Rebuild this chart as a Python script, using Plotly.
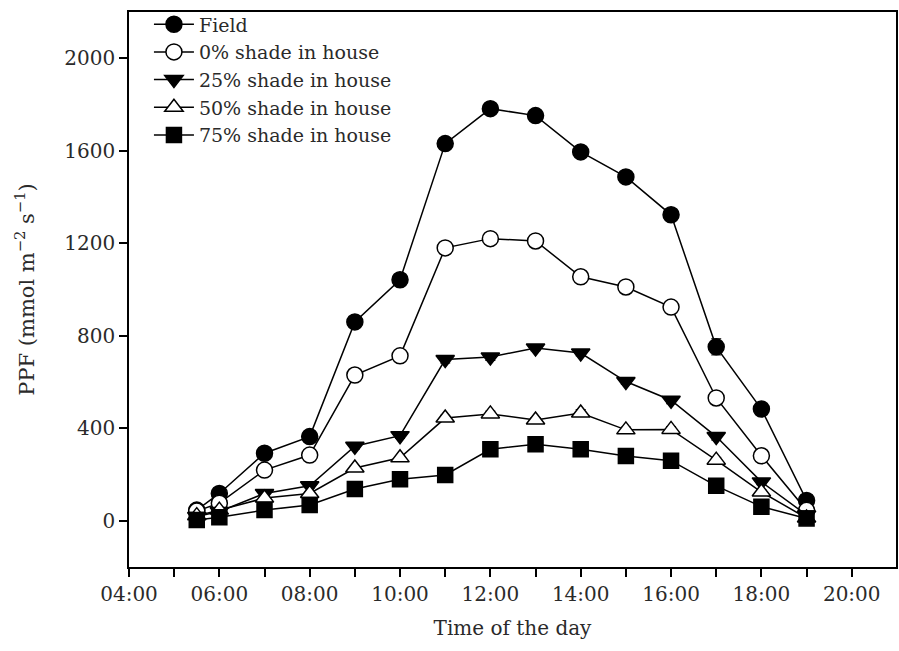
import plotly.graph_objects as go

hours = [5.5, 6, 7, 8, 9, 10, 11, 12, 13, 14, 15, 16, 17, 18, 19]

field = [46, 118, 292, 364, 860, 1042, 1631, 1782, 1752, 1595, 1487, 1323, 752, 483, 88]
shade0 = [42, 76, 219, 284, 630, 713, 1180, 1220, 1210, 1055, 1011, 924, 531, 281, 45]
shade25 = [18, 40, 118, 151, 322, 368, 697, 708, 747, 725, 602, 521, 364, 168, 25]
shade50 = [22, 46, 98, 118, 228, 272, 444, 462, 436, 466, 393, 395, 262, 124, 12]
shade75 = [3, 15, 46, 68, 137, 179, 198, 309, 331, 309, 280, 260, 151, 61, 10]

err_field = [8, 10, 15, 12, 15, 15, 15, 15, 15, 12, 12, 20, 35, 15, 10]
err0 = [8, 10, 10, 10, 12, 12, 15, 25, 12, 12, 12, 20, 15, 10, 8]
err25 = [6, 8, 10, 10, 12, 12, 15, 15, 12, 12, 12, 15, 15, 12, 8]
err50 = [6, 8, 8, 8, 10, 10, 12, 12, 10, 15, 12, 12, 12, 10, 6]
err75 = [5, 6, 8, 8, 10, 10, 10, 12, 12, 10, 10, 10, 10, 8, 5]

names = ["Field", "0% shade in house", "25% shade in house",
         "50% shade in house", "75% shade in house"]

x_major = [4, 6, 8, 10, 12, 14, 16, 18, 20]
x_major_text = ["04:00", "06:00", "08:00", "10:00", "12:00",
                "14:00", "16:00", "18:00", "20:00"]
x_minor = [5, 7, 9, 11, 13, 15, 17, 19]
y_tickvals = [0, 400, 800, 1200, 1600, 2000]

FONT = "DejaVu Serif"
TXT = "#2a2a2a"

series = [
    (field, err_field, "circle", "black", 16),
    (shade0, err0, "circle", "white", 16),
    (shade25, err25, "triangle-down", "black", 16),
    (shade50, err50, "triangle-up", "white", 16),
    (shade75, err75, "square", "black", 15),
]

fig = go.Figure()
for (vals, errs, sym, fill, size), name in zip(series, names):
    fig.add_trace(go.Scatter(
        x=hours, y=vals, name=name, mode="lines+markers",
        line=dict(color="black", width=1.5),
        marker=dict(symbol=sym, size=size, color=fill,
                    line=dict(color="black", width=1.5)),
        error_y=dict(type="data", array=errs, visible=True,
                     color="black", thickness=1, width=5),
    ))

fig.update_layout(
    width=899, height=651,
    margin=dict(l=129, r=1, t=12, b=84),
    paper_bgcolor="white", plot_bgcolor="white",
    font=dict(family=FONT, size=20, color=TXT),
    showlegend=True,
    legend=dict(x=0.026, y=1.012, xanchor="left", yanchor="top",
                bgcolor="rgba(0,0,0,0)", borderwidth=0,
                font=dict(family=FONT, size=19, color=TXT),
                tracegroupgap=0, itemwidth=40),
    xaxis=dict(
        range=[4, 20.98], tickvals=x_major, ticktext=x_major_text,
        showline=True, linecolor="black", linewidth=1.5, mirror=True,
        ticks="outside", ticklen=8, tickwidth=1.5, tickcolor="black",
        minor=dict(tickvals=x_minor, ticks="outside", ticklen=8,
                   tickwidth=1.5, tickcolor="black", showgrid=False),
        showgrid=False, zeroline=False,
        title=dict(text="Time of the day", standoff=16,
                   font=dict(family=FONT, size=20, color=TXT)),
    ),
    yaxis=dict(
        range=[-200, 2200], tickvals=y_tickvals,
        showline=True, linecolor="black", linewidth=1.5, mirror=True,
        ticks="outside", ticklen=8, tickwidth=1.5, tickcolor="black",
        showgrid=False, zeroline=False,
        title=dict(text="PPF (mmol m<sup>−2</sup> s<sup>−1</sup>)", standoff=24,
                   font=dict(family=FONT, size=21, color=TXT)),
    ),
)

fig.write_html("out.html")
